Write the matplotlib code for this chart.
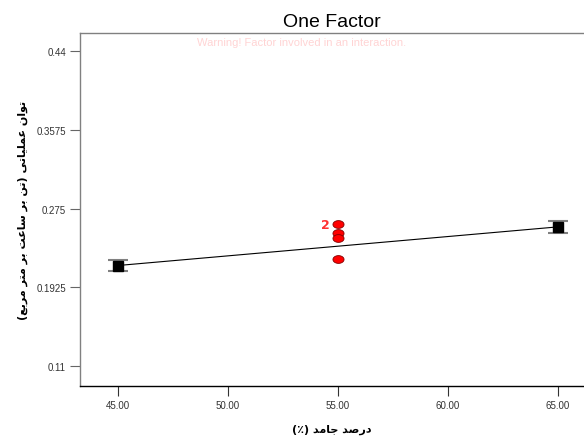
import numpy as np
import matplotlib
matplotlib.use("Agg")
import matplotlib.pyplot as plt

# design points (factor level, response)
x_levels = [45.0, 65.0]
y_pred = [0.2153, 0.2558]
y_err = [0.0056, 0.0060]

# observed runs at the centre point
x_obs = [55.0, 55.0, 55.0, 55.0]
y_obs = [0.2586, 0.2495, 0.2446, 0.2216]

x_ticks = [45.0, 50.0, 55.0, 60.0, 65.0]
y_ticks = [0.11, 0.1925, 0.275, 0.3575, 0.44]

title = "One Factor"
x_label = "درصد جامد (٪)"
y_label = "توان عملیاتی (تن بر ساعت بر متر مربع)"

# simple Persian shaping: (isolated, final, initial, medial)
FORMS = {
    "ا": ("\uFE8D", "\uFE8E", None, None),
    "ب": ("\uFE8F", "\uFE90", "\uFE91", "\uFE92"),
    "ت": ("\uFE95", "\uFE96", "\uFE97", "\uFE98"),
    "ج": ("\uFE9D", "\uFE9E", "\uFE9F", "\uFEA0"),
    "د": ("\uFEA9", "\uFEAA", None, None),
    "ر": ("\uFEAD", "\uFEAE", None, None),
    "س": ("\uFEB1", "\uFEB2", "\uFEB3", "\uFEB4"),
    "ص": ("\uFEB9", "\uFEBA", "\uFEBB", "\uFEBC"),
    "ع": ("\uFEC9", "\uFECA", "\uFECB", "\uFECC"),
    "ل": ("\uFEDD", "\uFEDE", "\uFEDF", "\uFEE0"),
    "م": ("\uFEE1", "\uFEE2", "\uFEE3", "\uFEE4"),
    "ن": ("\uFEE5", "\uFEE6", "\uFEE7", "\uFEE8"),
    "و": ("\uFEED", "\uFEEE", None, None),
    "ی": ("\uFBFC", "\uFBFD", "\uFBFE", "\uFBFF"),
}


def shape(text):
    out = []
    for i, ch in enumerate(text):
        if ch not in FORMS:
            out.append(ch)
            continue
        prev = text[i - 1] if i > 0 else ""
        nxt = text[i + 1] if i + 1 < len(text) else ""
        join_prev = prev in FORMS and FORMS[prev][2] is not None
        join_next = nxt in FORMS and FORMS[ch][2] is not None
        iso, fin, ini, med = FORMS[ch]
        if join_prev and join_next:
            out.append(med)
        elif join_prev:
            out.append(fin)
        elif join_next:
            out.append(ini)
        else:
            out.append(iso)
    vis = "".join(reversed(out))
    return vis.translate(str.maketrans("()", ")("))


plt.rcParams["font.family"] = ["Liberation Sans", "DejaVu Sans"]

fig = plt.figure(figsize=(5.84, 4.39), dpi=100)
ax = fig.add_axes([80 / 584, 52 / 439, 1 - 80 / 584, 353 / 439])

# fitted line with error bars at the factor levels
ax.plot(x_levels, y_pred, color="black", lw=0.8, zorder=2)
ax.errorbar(x_levels, y_pred, yerr=y_err, fmt="none", ecolor="black",
            elinewidth=0.8, capsize=0, zorder=3)
for xv, yv, ev in zip(x_levels, y_pred, y_err):
    ax.hlines([yv - ev, yv + ev], xv - 0.45, xv + 0.45, color="#808080", lw=1.5, zorder=3)
ax.plot(x_levels, y_pred, "s", color="black", ms=7, zorder=4)

t = np.linspace(0, 2 * np.pi, 40)
ellipse = list(zip(np.cos(t), 0.7 * np.sin(t)))
ax.plot(x_obs, y_obs, linestyle="none", marker=ellipse, ms=8,
        markerfacecolor="#ff0000", markeredgecolor="#800000", markeredgewidth=0.6, zorder=5)
ax.annotate("2", xy=(x_obs[0], y_obs[0]), xytext=(-13, 0), textcoords="offset pixels",
            ha="center", va="center", color="#ff3030", fontsize=9, fontweight="bold",
            family="DejaVu Sans")

ax.text(0.44, 0.975, "Warning! Factor involved in an interaction.", transform=ax.transAxes,
        ha="center", va="center", fontsize=8, color="#ffd4d4")

ax.set_xlim(43.27, 66.18)
ax.set_ylim(0.089, 0.459)
ax.set_xticks(x_ticks)
ax.set_xticklabels([f"{v:.2f}" for v in x_ticks])
ax.set_yticks(y_ticks)
ax.set_yticklabels([f"{v:g}" for v in y_ticks])
ax.tick_params(axis="both", labelsize=7, length=7, width=0.8, pad=3, colors="#333333")
ax.tick_params(axis="y", color="#666666")

ax.spines["right"].set_visible(False)
ax.spines["left"].set_color("#808080")
ax.spines["top"].set_color("#808080")
ax.spines["bottom"].set_color("black")
for s in ax.spines.values():
    s.set_linewidth(1.0)

ax.set_title(title, fontsize=14, pad=5)
ax.set_xlabel(shape(x_label), fontsize=8, fontweight="bold", family="DejaVu Sans", labelpad=10)
ax.set_ylabel(shape(y_label), fontsize=8, fontweight="bold", family="DejaVu Sans", labelpad=6)

fig.savefig("out.png", dpi=100)
